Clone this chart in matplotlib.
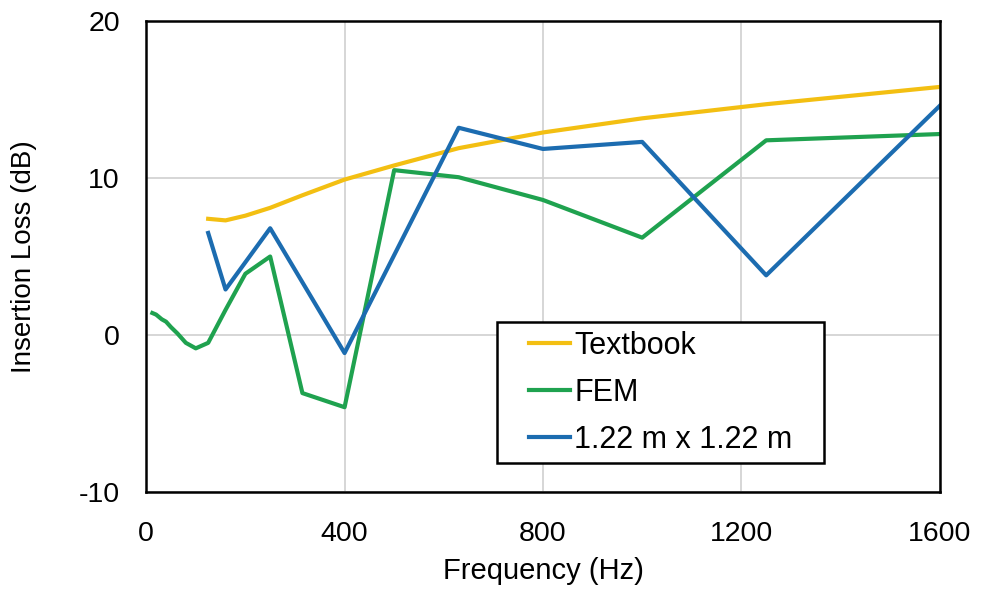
import matplotlib
matplotlib.use("Agg")
import matplotlib.pyplot as plt
import numpy as np

plt.rcParams['font.family'] = ['Liberation Sans', 'DejaVu Sans']
plt.rcParams['axes.unicode_minus'] = False

# Textbook prediction (1/3 octave bands)
textbook_f = [125, 160, 200, 250, 315, 400, 500, 630, 800, 1000, 1250, 1600]
textbook_il = [7.4, 7.3, 7.6, 8.1, 8.9, 9.9, 10.8, 11.9, 12.9, 13.8, 14.7, 15.8]

# FEM result
fem_f = [12.5, 20, 31.5, 40, 50, 63, 80, 100, 125, 160, 200, 250, 315, 400,
         500, 630, 800, 1000, 1250, 1600]
fem_il = [1.4, 1.3, 1.0, 0.85, 0.5, 0.1, -0.5, -0.85, -0.5, 1.6, 3.9, 5.0, -3.7, -4.6,
          10.5, 10.05, 8.6, 6.2, 12.4, 12.8]

# Measured, 1.22 m x 1.22 m panel
panel_f = [125, 160, 250, 400, 630, 800, 1000, 1250, 1600]
panel_il = [6.5, 2.9, 6.8, -1.15, 13.2, 11.85, 12.3, 3.8, 14.6]

fig = plt.figure(figsize=(9.81, 6.0), dpi=100)
ax = fig.add_axes([0.149, 0.18, 0.809, 0.785])

ax.plot(textbook_f, textbook_il, color='#F3BF12', lw=3, label='Textbook')
ax.plot(fem_f, fem_il, color='#1FA24F', lw=3, label='FEM')
ax.plot(panel_f, panel_il, color='#1C6CB0', lw=3, label='1.22 m x 1.22 m')

ax.set_xlim(0, 1600)
ax.set_ylim(-10, 20)
ax.set_xticks([0, 400, 800, 1200, 1600])
ax.set_yticks([-10, 0, 10, 20])
ax.grid(True, color='#D0D0D0', lw=1.2)
ax.set_axisbelow(True)
for s in ax.spines.values():
    s.set_linewidth(1.8)
    s.set_color('black')
ax.tick_params(length=0, labelsize=20.5)
ax.tick_params(axis='x', pad=21)
ax.tick_params(axis='y', pad=19)

ax.set_xlabel('Frequency (Hz)', fontsize=21)
ax.set_ylabel('Insertion Loss (dB)', fontsize=20)
ax.xaxis.set_label_coords(0.5, -0.138)
ax.yaxis.set_label_coords(-0.137, 0.5)

leg_fs = 22
leg_hl = 2.1
leg = ax.legend(loc='lower left', bbox_to_anchor=(0.4426, 0.0616, 0.411, 0.3),
                mode='expand', borderaxespad=0,
                fontsize=leg_fs, handlelength=leg_hl, handletextpad=0.15,
                labelspacing=0.56, borderpad=0.27, fancybox=False, framealpha=1,
                edgecolor='black')
leg.get_frame().set_linewidth(1.8)

# shorter legend lines, sitting right next to the labels
w = leg_hl * leg_fs
for ln in leg.get_lines():
    n = len(ln.get_xdata())
    ln.set_xdata(np.linspace(0.37 * w, w, n))

fig.savefig('out.png', dpi=100)
